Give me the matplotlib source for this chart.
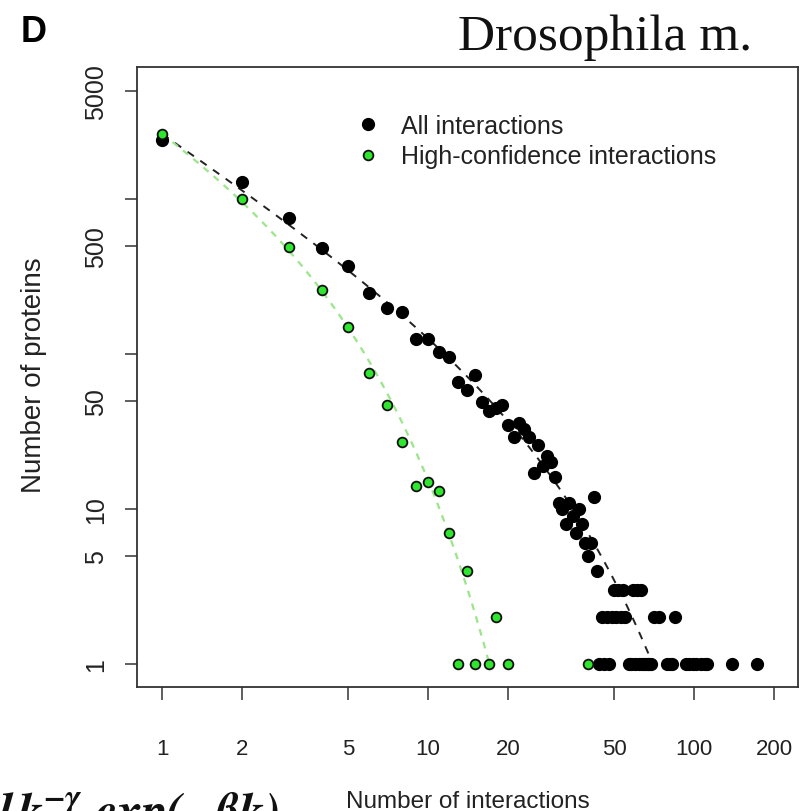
import numpy as np
import matplotlib
matplotlib.use("Agg")
import matplotlib.pyplot as plt

plt.rcParams['font.family'] = ['Liberation Sans', 'DejaVu Sans']
plt.rcParams['mathtext.fontset'] = 'stix'

# ---- data ----
# all interactions: degree k -> number of proteins
all_k = [1, 2, 3, 4, 5, 6, 7, 8, 9, 10, 11, 12, 13, 14, 15, 16, 17, 18, 19, 20,
         21, 22, 23, 24, 25, 26, 27, 28, 29, 30, 31, 32, 33, 34, 35, 36, 37, 38,
         39, 40, 41, 42, 43, 44, 45, 46, 47, 48, 49, 50, 51, 52, 53, 54, 55,
         57, 58, 59, 60, 61, 62, 63, 64, 65, 66, 67, 68, 69, 71, 74,
         79, 81, 83, 85, 93, 96, 99, 102, 106, 110, 112, 139, 172]
all_n = [2400, 1290, 754, 483, 370, 248, 198, 187, 125, 125, 103, 96, 66, 59, 73, 49, 43, 45, 47, 35,
         29, 36, 33, 29, 17, 26, 19, 22, 20, 16, 11, 10, 8, 11, 9, 7, 10, 8,
         6, 5, 6, 12, 4, 1, 2, 1, 2, 1, 2, 3, 2, 3, 2, 3, 2,
         1, 1, 3, 1, 3, 1, 3, 1, 1, 1, 1, 1, 1, 2, 2,
         1, 1, 1, 2, 1, 1, 1, 1, 1, 1, 1, 1, 1]

# high-confidence interactions
hc_k = [1, 2, 3, 4, 5, 6, 7, 8, 9, 10, 11, 12, 13, 14, 15, 17, 18, 20, 40]
hc_n = [2620, 1000, 490, 260, 150, 75, 47, 27, 14, 15, 13, 7, 1, 4, 1, 1, 2, 1, 1]

# fitted curves N = A * k^-gamma * exp(-beta k)
all_fit_A, all_fit_gamma, all_fit_beta, all_fit_kmax = 2748, 1.151, 0.0433, 70
hc_fit_A, hc_fit_gamma, hc_fit_beta, hc_fit_kmax = 3597, 1.01, 0.313, 17

x_ticks = [1, 2, 5, 10, 20, 50, 100, 200]
y_ticks = [1, 5, 10, 50, 100, 500, 1000, 5000]
y_tick_labels = ['1', '5', '10', '50', '', '500', '', '5000']

fig = plt.figure(figsize=(8.01, 8.12), dpi=100)
ax = fig.add_axes([137/801, 1-688/812, 661/801, 620/812])

kk = np.logspace(0, np.log10(all_fit_kmax), 200)
ax.plot(kk, all_fit_A * kk**-all_fit_gamma * np.exp(-all_fit_beta*kk),
        color='#222222', lw=1.4, dashes=(4, 4), zorder=2)
kk = np.logspace(0, np.log10(hc_fit_kmax), 200)
ax.plot(kk, hc_fit_A * kk**-hc_fit_gamma * np.exp(-hc_fit_beta*kk),
        color='#9be58a', lw=1.6, dashes=(3, 3), zorder=2)

ax.plot(all_k, all_n, 'o', color='black', ms=8.5, mec='black', zorder=3,
        label='All interactions')
ax.plot(hc_k, hc_n, 'o', color='#2ee62e', ms=7, mec='#111111', mew=1.3, zorder=4,
        label='High-confidence interactions')

ax.set_xscale('log')
ax.set_yscale('log')
ax.set_xlim(0.805, 246)
ax.set_ylim(0.711, 7110)
ax.minorticks_off()
ax.set_xticks(x_ticks)
ax.set_xticklabels([str(v) for v in x_ticks])
ax.set_yticks(y_ticks)
ax.set_yticklabels(y_tick_labels)
ax.tick_params(axis='both', direction='out', length=9, width=1.1, color='#333333',
               labelcolor='#222222')
ax.tick_params(axis='x', labelsize=16, pad=28)
ax.tick_params(axis='y', labelsize=18, pad=12)
plt.setp(ax.get_yticklabels(), rotation=90, va='center')
for sp in ax.spines.values():
    sp.set_linewidth(1.3)
    sp.set_color('#333333')

ax.set_xlabel('Number of interactions', fontsize=17.5, color='#222222')
ax.xaxis.set_label_coords(0.5, -0.166)
ax.set_ylabel('Number of proteins', fontsize=20, color='#222222')
ax.yaxis.set_label_coords(-0.136, 0.505)

ax.legend(loc='upper left', bbox_to_anchor=(0.331, 0.924), frameon=False,
          fontsize=18, handlelength=1.0, handletextpad=0.8, borderpad=0,
          borderaxespad=0, labelspacing=0.25, labelcolor='#222222')

fig.text(752/801, 1-50/812, 'Drosophila m.', ha='right', va='baseline',
         family='Liberation Serif', fontsize=37, color='#111111')
fig.text(34/801, 1-32/812, 'D', ha='center', va='center', fontsize=26,
         fontweight='bold', color='black')
fig.text(-0.002, -0.018, r'$\mathbfit{l\,k^{-\gamma}\ exp(-\beta k)}$', ha='left',
         va='baseline', fontsize=36, color='#111111')

fig.savefig('out.png', dpi=100)
